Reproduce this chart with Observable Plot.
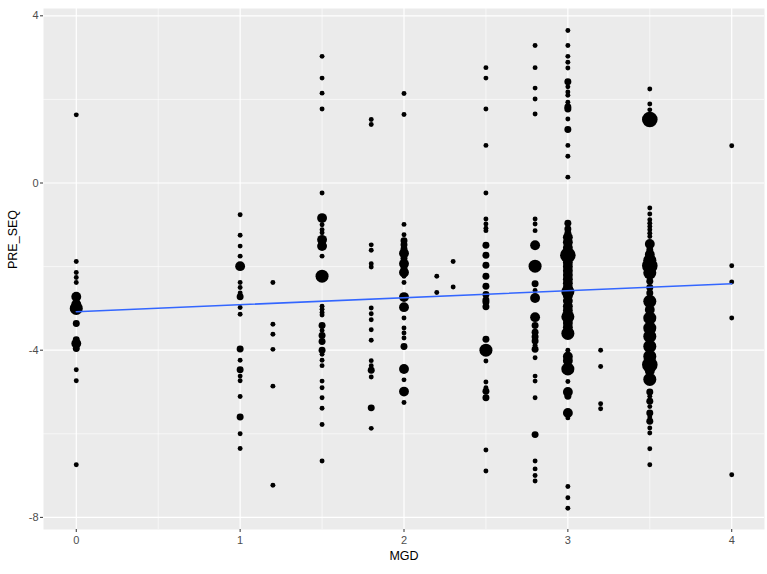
<!DOCTYPE html>
<html>
<head>
<meta charset="utf-8">
<script src="https://cdn.jsdelivr.net/npm/d3@7"></script>
<script src="https://cdn.jsdelivr.net/npm/@observablehq/plot@0.6"></script>
<style>
  html, body { margin: 0; padding: 0; background: #ffffff; }
  #chart { width: 767px; height: 574px; }
  svg { font-family: "Liberation Sans", Arial, sans-serif; }
</style>
</head>
<body>
<div id="chart"></div>
<script>
// Observations: [PRE_SEQ, number of overlapping observations] per MGD level
const mgd_0   = [[1.63,1],[-1.88,1],[-2.14,1],[-2.26,1],[-2.38,1],[-2.72,4],[-2.9,4],[-3.0,7],[-3.05,2],[-3.36,2],[-3.75,2],[-3.84,4],[-3.96,2],[-4.47,1],[-4.73,1],[-6.74,1]];
const mgd_1   = [[-0.76,1],[-1.25,1],[-1.51,1],[-1.75,1],[-1.99,4],[-2.38,1],[-2.5,1],[-2.63,1],[-2.72,2],[-2.98,1],[-3.14,1],[-3.97,2],[-4.24,1],[-4.47,2],[-4.62,1],[-4.73,1],[-5.11,1],[-5.6,2],[-6.0,1],[-6.35,1]];
const mgd_1_2 = [[-2.38,1],[-3.38,1],[-3.62,1],[-3.98,1],[-4.86,1],[-7.23,1]];
const mgd_1_5 = [[3.03,1],[2.51,1],[2.15,1],[1.77,1],[-0.24,1],[-0.84,4],[-1.0,1],[-1.12,1],[-1.19,1],[-1.36,4],[-1.45,2],[-1.51,4],[-1.75,1],[-2.23,7],[-2.95,1],[-3.02,1],[-3.1,1],[-3.16,1],[-3.41,2],[-3.53,1],[-3.65,2],[-3.79,2],[-4.0,2],[-4.1,1],[-4.24,1],[-4.37,1],[-4.74,1],[-4.9,1],[-5.14,1],[-5.39,1],[-5.78,1],[-6.65,1]];
const mgd_1_8 = [[1.52,1],[1.40,1],[-1.48,1],[-1.61,1],[-1.93,1],[-2.01,1],[-2.99,1],[-3.13,1],[-3.27,1],[-3.51,1],[-3.76,1],[-4.25,1],[-4.37,1],[-4.48,2],[-4.64,1],[-5.38,2],[-5.87,1]];
const mgd_2   = [[2.14,1],[1.64,1],[-0.99,1],[-1.24,1],[-1.38,2],[-1.48,2],[-1.58,2],[-1.68,4],[-1.8,2],[-1.93,4],[-2.05,2],[-2.14,4],[-2.23,1],[-2.38,1],[-2.73,4],[-2.97,4],[-3.23,1],[-3.47,1],[-3.59,1],[-3.71,1],[-3.91,2],[-4.45,4],[-4.71,1],[-4.99,4],[-5.25,1]];
const mgd_2_2 = [[-2.23,1],[-2.62,1]];
const mgd_2_3 = [[-1.88,1],[-2.49,1]];
const mgd_2_5 = [[2.76,1],[2.51,1],[1.77,1],[0.9,1],[-0.24,1],[-0.86,1],[-0.98,1],[-1.08,1],[-1.14,1],[-1.49,2],[-1.73,2],[-1.97,2],[-2.23,2],[-2.47,2],[-2.67,2],[-2.8,2],[-2.85,2],[-2.96,2],[-3.74,2],[-4.0,7],[-4.26,1],[-4.76,1],[-4.9,1],[-4.98,2],[-5.14,2],[-6.39,1],[-6.89,1]];
const mgd_2_8 = [[3.29,1],[2.76,1],[2.27,1],[2.01,1],[1.65,1],[-0.86,1],[-0.98,1],[-1.14,1],[-1.49,4],[-1.99,7],[-2.41,2],[-2.57,1],[-2.75,4],[-3.21,4],[-3.41,2],[-3.57,2],[-3.68,2],[-3.78,2],[-3.88,1],[-3.98,2],[-4.18,1],[-4.62,1],[-4.74,1],[-5.14,1],[-6.02,2],[-6.65,1],[-6.84,1],[-7.0,1],[-7.13,1]];
const mgd_3   = [[3.65,1],[3.29,1],[3.03,1],[2.89,1],[2.75,1],[2.42,2],[2.3,1],[2.18,1],[2.1,1],[1.93,1],[1.82,2],[1.77,2],[1.53,1],[1.28,2],[0.9,1],[0.64,1],[0.14,1],[-0.96,2],[-1.1,2],[-1.2,2],[-1.3,4],[-1.42,4],[-1.55,4],[-1.73,10],[-1.9,4],[-2.0,4],[-2.1,4],[-2.2,4],[-2.3,4],[-2.4,4],[-2.5,4],[-2.6,7],[-2.7,4],[-2.82,4],[-2.95,4],[-3.05,4],[-3.2,7],[-3.35,4],[-3.45,4],[-3.6,7],[-4.0,1],[-4.15,4],[-4.25,4],[-4.45,7],[-4.75,1],[-5.0,4],[-5.1,2],[-5.5,4],[-5.62,1],[-7.26,1],[-7.53,1],[-7.78,1]];
const mgd_3_2 = [[-4.0,1],[-4.39,1],[-5.28,1],[-5.4,1]];
const mgd_3_5 = [[2.25,1],[1.89,1],[1.75,1],[1.52,10],[-0.6,1],[-0.74,1],[-0.88,1],[-0.96,1],[-1.04,1],[-1.12,1],[-1.2,1],[-1.28,1],[-1.46,4],[-1.6,2],[-1.71,4],[-1.85,7],[-1.98,10],[-2.15,7],[-2.35,2],[-2.5,2],[-2.63,2],[-2.83,7],[-3.03,4],[-3.23,7],[-3.47,7],[-3.67,7],[-3.91,7],[-4.15,7],[-4.35,10],[-4.5,4],[-4.7,7],[-5.0,2],[-5.1,1],[-5.22,2],[-5.35,1],[-5.5,2],[-5.6,1],[-5.7,2],[-5.86,1],[-5.98,1],[-6.36,1],[-6.74,1]];
const mgd_4   = [[0.89,1],[-1.98,1],[-2.37,1],[-3.23,1],[-6.98,1]];

const mgdLevels = [0, 1, 1.2, 1.5, 1.8, 2, 2.2, 2.3, 2.5, 2.8, 3, 3.2, 3.5, 4];
const groups = [mgd_0, mgd_1, mgd_1_2, mgd_1_5, mgd_1_8, mgd_2, mgd_2_2, mgd_2_3, mgd_2_5, mgd_2_8, mgd_3, mgd_3_2, mgd_3_5, mgd_4];

// Fitted linear trend
const fitMGD = [0, 4];
const fitPRE = [-3.08, -2.41];

// Axis ticks and gridlines
const xTicks = [0, 1, 2, 3, 4];
const xMinor = [0.5, 1.5, 2.5, 3.5];
const yTicks = [-8, -4, 0, 4];
const yMinor = [-6, -2, 2];

const points = [];
groups.forEach((g, i) => g.forEach(([y, n]) => points.push({MGD: mgdLevels[i], PRE_SEQ: y, n})));
const fit = fitMGD.map((x, i) => ({MGD: x, PRE_SEQ: fitPRE[i]}));

const chart = Plot.plot({
  width: 767,
  height: 574,
  marginLeft: 43,
  marginTop: 8,
  marginRight: 3,
  marginBottom: 45,
  style: {fontFamily: "'Liberation Sans', Arial, sans-serif", background: "#ffffff"},
  x: {domain: [-0.2, 4.2]},
  y: {domain: [-8.29, 4.175]},
  r: {type: "sqrt", domain: [0, 10], range: [0, 7.8]},
  marks: [
    Plot.frame({fill: "#EBEBEB", stroke: null}),
    Plot.ruleX(xMinor, {stroke: "#ffffff", strokeWidth: 0.6}),
    Plot.ruleY(yMinor, {stroke: "#ffffff", strokeWidth: 0.6}),
    Plot.ruleX(xTicks, {stroke: "#ffffff", strokeWidth: 1.2}),
    Plot.ruleY(yTicks, {stroke: "#ffffff", strokeWidth: 1.2}),
    Plot.axisX(xTicks, {tickSize: 3, tickPadding: 4, fontSize: 11, fill: "#4D4D4D", stroke: "#333333", label: null, tickFormat: d => String(d)}),
    Plot.axisY(yTicks, {tickSize: 3, tickPadding: 2, fontSize: 11, fill: "#4D4D4D", stroke: "#333333", label: null, tickFormat: d => d < 0 ? "-" + Math.abs(d) : String(d)}),
    Plot.dot(points, {x: "MGD", y: "PRE_SEQ", r: "n", fill: "#000000", stroke: null}),
    Plot.line(fit, {x: "MGD", y: "PRE_SEQ", stroke: "#3366FF", strokeWidth: 1.6}),
    Plot.text(["MGD"], {frameAnchor: "bottom", dy: 30, fontSize: 12.5, fill: "#000000"}),
    Plot.text(["PRE_SEQ"], {frameAnchor: "left", dx: -31, rotate: -90, fontSize: 12.5, fill: "#000000"})
  ]
});
document.getElementById("chart").appendChild(chart);
</script>
</body>
</html>
